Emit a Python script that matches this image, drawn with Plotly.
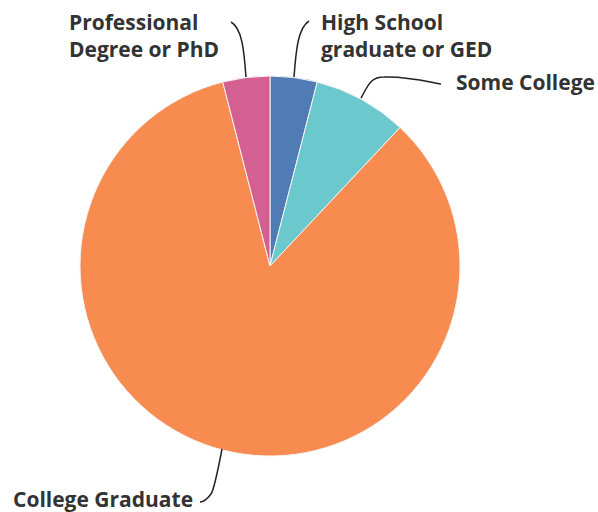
import plotly.graph_objects as go

W, H = 598, 512

categories = ["High School graduate or GED", "Some College", "College Graduate", "Professional Degree or PhD"]
label_text = ["High School<br>graduate or GED", "Some College", "College Graduate", "Professional<br>Degree or PhD"]
values = [4, 8, 84, 4]
colors = ["#507cb6", "#6bc8cd", "#f78b50", "#d45f91"]


def px(x):
    return x / W


def py(y):
    return 1 - y / H


cx, cy, r = 270, 266, 190

fig = go.Figure(go.Pie(
    labels=categories,
    values=values,
    sort=False,
    direction="clockwise",
    rotation=0,
    marker=dict(colors=colors, line=dict(color="#f4f4f4", width=1)),
    textinfo="none",
    hoverinfo="label+percent",
    domain=dict(x=[px(cx - r), px(cx + r)], y=[py(cy + r), py(cy - r)]),
    showlegend=False,
))

font = dict(family="Open Sans", size=21, color="#333333")
# label placements (left x, vertical middle y) in pixels
label_pos = [(319, 35), (454, 82), (11, 499), (67, 35)]
annotations = []
for txt, (lx, ly) in zip(label_text, label_pos):
    annotations.append(dict(
        text="<b>" + txt + "</b>", x=px(lx), y=py(ly), xref="paper", yref="paper",
        xanchor="left", yanchor="middle", align="left", showarrow=False, font=font,
    ))


def path(pts):
    (x0, y0), rest = pts[0], pts[1:]
    s = f"M {px(x0)},{py(y0)}"
    for i in range(0, len(rest), 3):
        (a, b), (c, d), (e, f) = rest[i:i + 3]
        s += f" C {px(a)},{py(b)} {px(c)},{py(d)} {px(e)},{py(f)}"
    return s


leaders = [
    [(294, 77), (296, 50), (298, 28), (309, 21)],
    [(361, 98), (368, 86), (370, 77), (384, 77), (405, 76), (425, 81), (441, 84)],
    [(222, 449), (218, 470), (214, 490), (211, 494), (208, 498), (204, 502), (200, 502)],
    [(246, 77), (244, 50), (242, 28), (231, 22)],
]
shapes = [dict(type="path", path=path(p), xref="paper", yref="paper",
               line=dict(color="#222222", width=1.5)) for p in leaders]

fig.update_layout(
    width=W, height=H,
    margin=dict(l=0, r=0, t=0, b=0),
    paper_bgcolor="white", plot_bgcolor="white",
    annotations=annotations, shapes=shapes,
)

fig.write_html(
    "out.html",
    config={"displayModeBar": False},
    post_script="document.body.style.margin='0';document.body.style.overflow='hidden';",
)
